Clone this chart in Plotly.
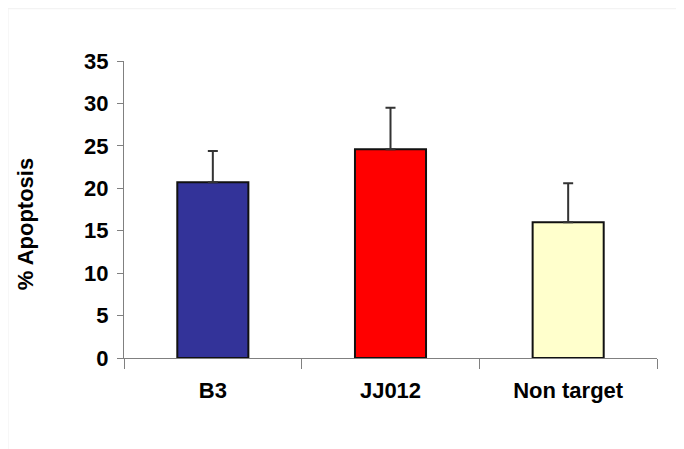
import plotly.graph_objects as go

categories = ["B3", "JJ012", "Non target"]
apoptosis = [20.7, 24.6, 16.0]
error_up = [3.7, 4.9, 4.6]
bar_colors = ["#333399", "#FF0000", "#FFFFCC"]
y_ticks = [0, 5, 10, 15, 20, 25, 30, 35]
y_title = "% Apoptosis"

fig = go.Figure()
fig.add_trace(go.Bar(
    x=categories,
    y=apoptosis,
    marker=dict(color=bar_colors, line=dict(color="#111111", width=2)),
    error_y=dict(type="data", array=error_up, arrayminus=[0, 0, 0], symmetric=False,
                 color="#333333", thickness=2, width=5),
    width=0.4,
))

font_family = "Liberation Sans, Arial, sans-serif"
fig.update_layout(
    width=684, height=449,
    margin=dict(l=116, r=35, t=53, b=99),
    paper_bgcolor="white",
    plot_bgcolor="white",
    showlegend=False,
    font=dict(family=font_family, color="#000000"),
    xaxis=dict(
        automargin=False,
        showline=True, linecolor="#808080", linewidth=1,
        ticks="outside", tickson="boundaries", ticklen=10, tickcolor="#808080",
        tickfont=dict(size=22, family=font_family, weight="bold"),
        ticklabelstandoff=13,
        showgrid=False, zeroline=False,
    ),
    yaxis=dict(
        automargin=False,
        range=[0, 35], tickvals=y_ticks,
        showline=True, linecolor="#808080", linewidth=1,
        ticks="outside", ticklen=6, tickcolor="#808080",
        tickfont=dict(size=22, family=font_family, weight="bold"),
        ticklabelstandoff=4,
        showgrid=False, zeroline=False,
    ),
    annotations=[dict(text=y_title, xref="paper", yref="paper", x=-0.186, y=0.45,
                      xanchor="center", yanchor="middle", textangle=-90, showarrow=False,
                      font=dict(size=22, family=font_family, weight="bold"))],
    shapes=[dict(type="rect", xref="paper", yref="paper", x0=-0.2176, x1=1.08, y0=-0.35, y1=1.176,
                 line=dict(color="#f0f0f0", width=1), layer="below")],
)

fig.write_html("out.html")
